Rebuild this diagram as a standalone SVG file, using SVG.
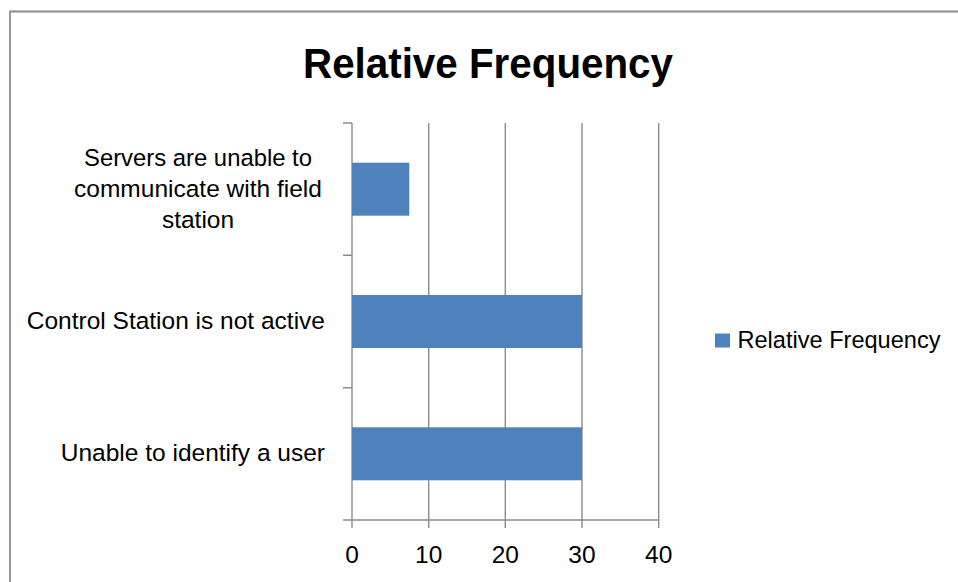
<svg xmlns="http://www.w3.org/2000/svg" width="958" height="582" viewBox="0 0 958 582">
  <style>
    .frame { fill: none; stroke: #8a8a8a; stroke-width: 1.8; }
    .grid { fill: none; stroke: #8c8c8c; stroke-width: 1.4; }
    .bar { fill: #4f81bd; }
    .title { font-family: "Liberation Sans", Arial, sans-serif; font-weight: bold; font-size: 42px; fill: #000; text-anchor: middle; }
    .lbl { font-family: "Liberation Sans", Arial, sans-serif; font-size: 24.5px; fill: #000; }
    .cat { text-anchor: end; }
    .catc { text-anchor: middle; }
    .num { text-anchor: middle; }
  </style>
  <rect x="0" y="0" width="958" height="582" fill="#ffffff"/>
  <!-- chart frame (top and left edges) -->
  <path class="frame" d="M10,582 V11.5 H958"/>

  <g id="title">
    <text class="title" x="488" y="78" textLength="370" lengthAdjust="spacingAndGlyphs">Relative Frequency</text>
  </g>

  <!-- gridlines, axes and tick marks -->
  <g id="axes">
    <path class="grid" d="M428.7,123 V520 M505.3,123 V520 M582,123 V520 M658.7,123 V520"/>
    <path class="grid" d="M352,123 V520 M343,123 H352 M343,255.3 H352 M343,387.7 H352 M343,520 H658.7"/>
    <path class="grid" d="M352,520 V528 M428.7,520 V528 M505.3,520 V528 M582,520 V528 M658.7,520 V528"/>
  </g>

  <g id="bars">
    <rect id="bar-servers" class="bar" x="352" y="162.7" width="57.3" height="53"/>
    <rect id="bar-control" class="bar" x="352" y="295" width="230" height="53"/>
    <rect id="bar-user" class="bar" x="352" y="427.3" width="230" height="53"/>
  </g>

  <g id="category-labels">
    <text class="lbl catc" x="198" y="166" textLength="228" lengthAdjust="spacingAndGlyphs">Servers are unable to</text>
    <text class="lbl catc" x="198" y="197">communicate with field</text>
    <text class="lbl catc" x="198" y="228">station</text>
    <text class="lbl cat" x="325" y="329">Control Station is not active</text>
    <text class="lbl cat" x="325" y="461">Unable to identify a user</text>
  </g>

  <g id="value-labels">
    <text class="lbl num" x="352" y="563">0</text>
    <text class="lbl num" x="428.7" y="563">10</text>
    <text class="lbl num" x="505.3" y="563">20</text>
    <text class="lbl num" x="582" y="563">30</text>
    <text class="lbl num" x="658.7" y="563">40</text>
  </g>

  <g id="legend">
    <rect class="bar" x="715" y="333.5" width="15" height="14"/>
    <text class="lbl" x="737.5" y="347.5" textLength="203" lengthAdjust="spacingAndGlyphs">Relative Frequency</text>
  </g>
</svg>
